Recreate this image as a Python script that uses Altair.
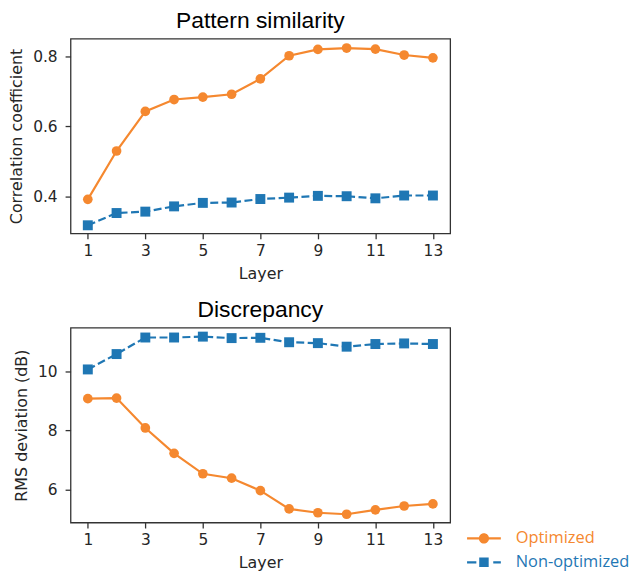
import altair as alt
import pandas as pd

layers = list(range(1, 14))
series_names = ["Optimized", "Non-optimized"]
sim_opt = [0.392, 0.530, 0.643, 0.677, 0.684, 0.692, 0.736, 0.802, 0.820, 0.824, 0.821, 0.804, 0.796]
sim_non = [0.318, 0.353, 0.357, 0.372, 0.382, 0.383, 0.393, 0.397, 0.402, 0.401, 0.395, 0.403, 0.403]
rms_opt = [9.07, 9.09, 8.08, 7.22, 6.53, 6.38, 5.96, 5.34, 5.21, 5.16, 5.31, 5.44, 5.51]
rms_non = [10.06, 10.58, 11.14, 11.14, 11.17, 11.12, 11.13, 10.98, 10.95, 10.83, 10.92, 10.94, 10.92]
x_ticks = [1, 3, 5, 7, 9, 11, 13]
sim_ticks = [0.4, 0.6, 0.8]
rms_ticks = [6, 8, 10]

ORANGE = "#f5882f"
BLUE = "#1f77b4"
DARK = "#262626"
# legend handles: thin filled bars for the line segments plus the marker
PATH_OPT = ("M-1,-0.065H-0.29V0.065H-1Z M0.29,-0.065H1V0.065H0.29Z "
            "M0.3,0A0.3,0.3,0,1,1,-0.3,0A0.3,0.3,0,1,1,0.3,0Z")
PATH_NON = ("M-1,-0.065H-0.45V0.065H-1Z M0.55,-0.065H1V0.065H0.55Z "
            "M-0.28,-0.28H0.28V0.28H-0.28Z")


def make_df(opt, non):
    return pd.DataFrame({
        "layer": layers + layers,
        "value": opt + non,
        "series": [series_names[0]] * len(opt) + [series_names[1]] * len(non),
    })


def panel(df, title, ytitle, ydomain, yticks, yfmt, with_legend):
    base = alt.Chart(df).encode(
        x=alt.X("layer:Q", scale=alt.Scale(domain=[0.4, 13.6], nice=False, zero=False),
                axis=alt.Axis(values=x_ticks, title="Layer", format="d")),
        y=alt.Y("value:Q", scale=alt.Scale(domain=ydomain, nice=False, zero=False),
                axis=alt.Axis(values=yticks, title=ytitle, format=yfmt)),
    )
    opt = base.transform_filter(alt.datum.series == series_names[0])
    non = base.transform_filter(alt.datum.series == series_names[1])
    parts = [
        non.mark_line(color=BLUE, strokeWidth=2.2, strokeDash=[8, 3.5]),
        non.mark_point(filled=True, shape="square", size=100, color=BLUE, opacity=1),
        opt.mark_line(color=ORANGE, strokeWidth=2.2),
        opt.mark_point(filled=True, shape="circle", size=95, color=ORANGE, opacity=1),
    ]
    if with_legend:
        for name, col, path, ly in [(series_names[0], ORANGE, PATH_OPT, 194),
                                    (series_names[1], BLUE, PATH_NON, 218)]:
            parts.append(
                base.transform_filter("false").mark_point(
                    filled=True, color=col, opacity=1
                ).encode(
                    shape=alt.Shape("series:N",
                                    scale=alt.Scale(domain=[name], range=[path]),
                                    legend=alt.Legend(title=None, orient="none",
                                                      legendX=398, legendY=ly,
                                                      labelColor=col, symbolSize=1156,
                                                      symbolFillColor=col,
                                                      symbolOpacity=1,
                                                      labelFont="Open Sans", labelFontSize=16.5,
                                                      labelOffset=14))
                )
            )
    ch = alt.layer(*parts).properties(
        width=382, height=196,
        title=alt.Title(title, fontSize=23, font="Liberation Sans", fontWeight="normal",
                        color="black", offset=6),
    )
    if with_legend:
        ch = ch.resolve_scale(shape="independent")
    return ch


top = panel(make_df(sim_opt, sim_non), "Pattern similarity", "Correlation coefficient",
            [0.295, 0.851], sim_ticks, ".1f", False)
bottom = panel(make_df(rms_opt, rms_non), "Discrepancy", "RMS deviation (dB)",
               [4.88, 11.47], rms_ticks, "d", True)

chart = alt.vconcat(top, bottom, spacing=16).properties(
    padding={"left": 8, "top": 7, "right": 5, "bottom": 5}
).configure_view(
    stroke="#333333", strokeWidth=1.3
).configure_axis(
    domain=False, grid=False, tickColor="#333333", tickSize=5.5, tickWidth=1.3,
    labelFont="DejaVu Sans", labelFontSize=15.5, labelColor=DARK, labelPadding=4,
    titleFont="DejaVu Sans", titleFontSize=16, titleFontWeight="normal", titleColor=DARK,
).configure_axisX(labelPadding=5, titlePadding=6).configure_axisY(labelPadding=8, titlePadding=8)

chart.save("out.html", embed_options={"renderer": "svg", "actions": False})
